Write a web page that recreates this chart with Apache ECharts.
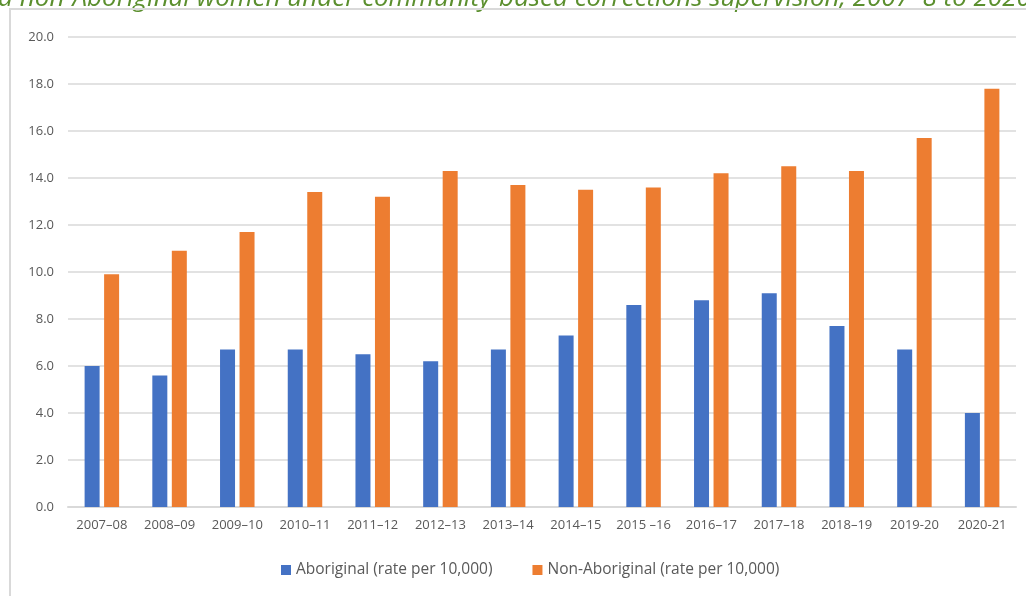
<!DOCTYPE html>
<html>
<head>
<meta charset="utf-8">
<script src="https://cdn.jsdelivr.net/npm/echarts@6/dist/echarts.min.js"></script>
<style>
  html, body { margin: 0; padding: 0; background: #fff; }
  #chart { width: 1026px; height: 596px; }
</style>
</head>
<body>
<div id="chart"></div>
<script>
  // financial years on the x axis
  const years = ['2007–08', '2008–09', '2009–10', '2010–11', '2011–12', '2012–13', '2013–14',
                 '2014–15', '2015 –16', '2016–17', '2017–18', '2018–19', '2019-20', '2020-21']
  // rate per 10,000
  const aboriginal = [6.0, 5.6, 6.7, 6.7, 6.5, 6.2, 6.7, 7.3, 8.6, 8.8, 9.1, 7.7, 6.7, 4.0]
  const nonAboriginal = [9.9, 10.9, 11.7, 13.4, 13.2, 14.3, 13.7, 13.5, 13.6, 14.2, 14.5, 14.3, 15.7, 17.8]
  const seriesNames = ['Aboriginal (rate per 10,000)', 'Non-Aboriginal (rate per 10,000)']
  const titleText = 'd non-Aboriginal women under community-based corrections supervision, 2007–8 to 2020–21'

  const font = "'Open Sans', 'Liberation Sans', sans-serif"
  const chart = echarts.init(document.getElementById('chart'))

  const option = {
    animation: false,
    textStyle: { fontFamily: font },
    graphic: [
      {
        type: 'text',
        x: -2,
        y: 12,
        style: {
          text: titleText,
          font: "italic 26px 'Open Sans', sans-serif",
          fill: '#5b8f2e',
          verticalAlign: 'bottom'
        }
      },
      {
        type: 'polyline',
        shape: { points: [[10, 596], [10, 9], [1026, 9]] },
        style: { stroke: '#d9d9d9', lineWidth: 2, fill: null }
      }
    ],
    legend: {
      bottom: 13,
      left: 276,
      itemWidth: 10,
      itemHeight: 10,
      itemGap: 40,
      icon: 'rect',
      textStyle: { color: '#595959', fontSize: 15.5, fontFamily: font },
      data: seriesNames
    },
    grid: {
      left: 68,
      right: 10,
      top: 37,
      bottom: 89
    },
    xAxis: {
      type: 'category',
      data: years,
      axisTick: { show: false },
      axisLine: { lineStyle: { color: '#d9d9d9', width: 2 } },
      axisLabel: { color: '#595959', fontSize: 13, margin: 12, interval: 0 }
    },
    yAxis: {
      type: 'value',
      min: 0,
      max: 20,
      interval: 2,
      axisLabel: {
        color: '#595959',
        fontSize: 13,
        margin: 14,
        formatter: v => v.toFixed(1)
      },
      splitLine: { lineStyle: { color: '#d9d9d9', width: 1.5 } }
    },
    series: [
      {
        name: seriesNames[0],
        type: 'bar',
        data: aboriginal,
        barWidth: 15,
        barGap: '30%',
        itemStyle: { color: '#4472c4' }
      },
      {
        name: seriesNames[1],
        type: 'bar',
        data: nonAboriginal,
        barWidth: 15,
        itemStyle: { color: '#ed7d31' }
      }
    ]
  }

  chart.setOption(option)
</script>
</body>
</html>
